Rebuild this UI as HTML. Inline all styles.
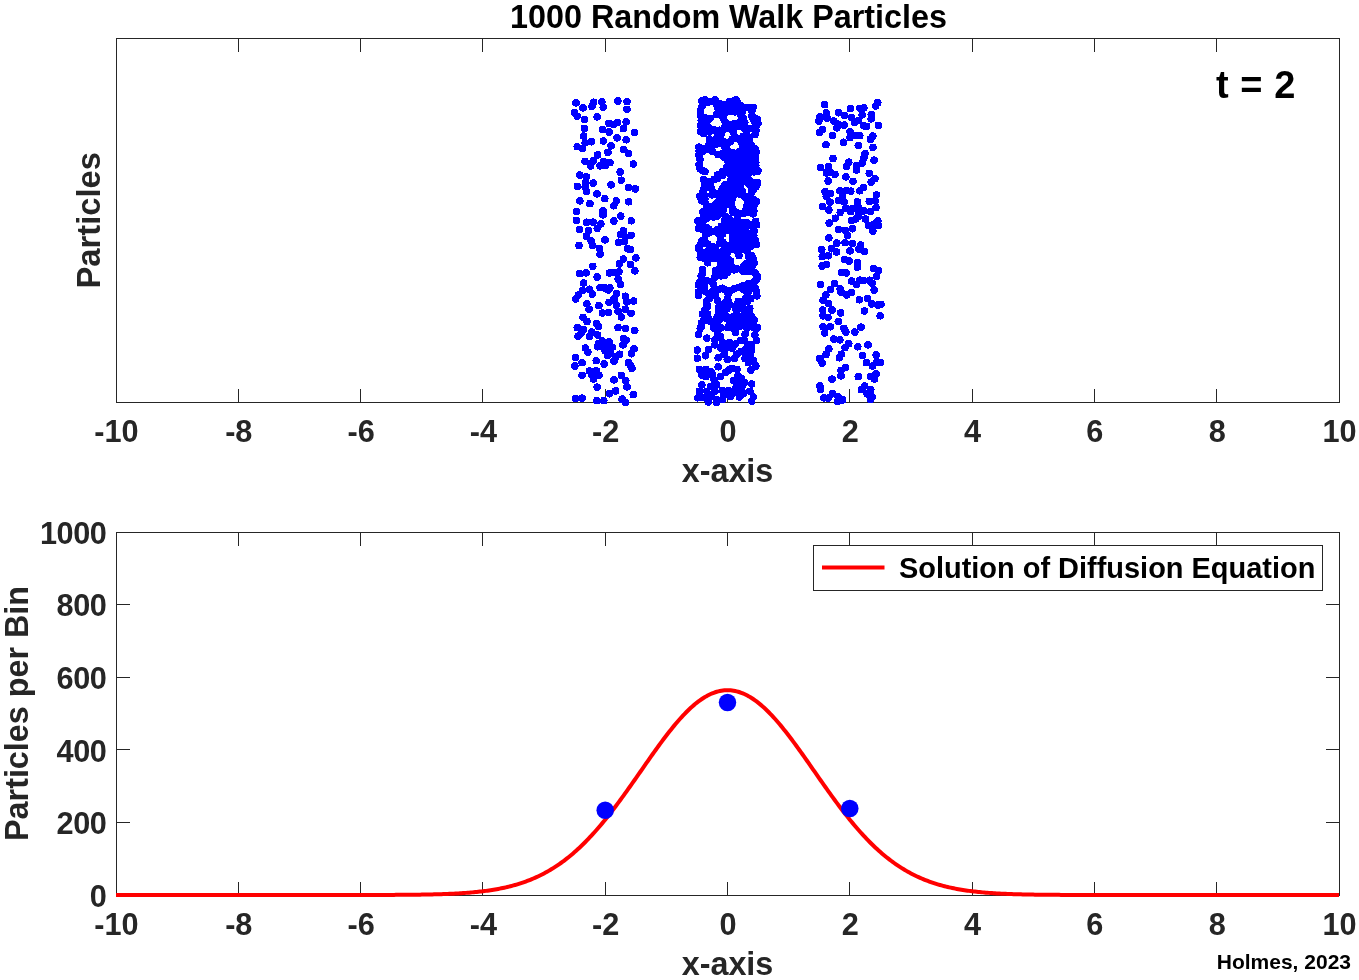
<!DOCTYPE html>
<html lang="en"><head><meta charset="utf-8"><title>1000 Random Walk Particles</title>
<style>html,body{margin:0;padding:0;background:#fff;}body{width:1359px;height:980px;overflow:hidden;}svg{display:block;}text{font-family:"Liberation Sans", "Helvetica", "Arial", sans-serif;font-weight:bold;}</style>
</head><body>
<svg width="1359" height="980" viewBox="0 0 1359 980">
<rect x="0" y="0" width="1359" height="980" fill="#ffffff"/>
<g id="top-axes">
<path d="M238.50 402.00V389.00M238.50 39.00V52.00M360.50 402.00V389.00M360.50 39.00V52.00M482.50 402.00V389.00M482.50 39.00V52.00M605.50 402.00V389.00M605.50 39.00V52.00M727.50 402.00V389.00M727.50 39.00V52.00M849.50 402.00V389.00M849.50 39.00V52.00M972.50 402.00V389.00M972.50 39.00V52.00M1094.50 402.00V389.00M1094.50 39.00V52.00M1216.50 402.00V389.00M1216.50 39.00V52.00" stroke="#262626" stroke-width="1" fill="none" shape-rendering="crispEdges"/>
<rect x="116.50" y="38.50" width="1223.00" height="364.00" fill="none" stroke="#262626" stroke-width="1" shape-rendering="crispEdges"/>
</g>
<g id="particles" fill="#0000ff" shape-rendering="crispEdges">
<circle cx="576.0" cy="102.9" r="3.8"/><circle cx="583.0" cy="107.9" r="3.8"/><circle cx="593.6" cy="102.2" r="3.8"/><circle cx="591.9" cy="106.5" r="3.8"/><circle cx="601.9" cy="102.0" r="3.8"/><circle cx="603.2" cy="107.3" r="3.8"/><circle cx="617.9" cy="101.0" r="3.8"/><circle cx="627.0" cy="101.6" r="3.8"/><circle cx="626.9" cy="109.3" r="3.8"/><circle cx="574.6" cy="112.4" r="3.8"/><circle cx="577.2" cy="116.3" r="3.8"/><circle cx="584.6" cy="119.3" r="3.8"/><circle cx="597.2" cy="116.9" r="3.8"/><circle cx="608.9" cy="123.4" r="3.8"/><circle cx="613.8" cy="124.5" r="3.8"/><circle cx="617.2" cy="122.6" r="3.8"/><circle cx="626.2" cy="121.8" r="3.8"/><circle cx="623.4" cy="128.7" r="3.8"/><circle cx="584.4" cy="128.3" r="3.8"/><circle cx="602.7" cy="129.7" r="3.8"/><circle cx="609.1" cy="132.0" r="3.8"/><circle cx="634.4" cy="132.4" r="3.8"/><circle cx="583.6" cy="136.1" r="3.8"/><circle cx="617.1" cy="137.9" r="3.8"/><circle cx="626.2" cy="139.8" r="3.8"/><circle cx="591.5" cy="141.8" r="3.8"/><circle cx="585.2" cy="142.8" r="3.8"/><circle cx="577.2" cy="146.7" r="3.8"/><circle cx="582.3" cy="148.3" r="3.8"/><circle cx="603.4" cy="141.0" r="3.8"/><circle cx="611.1" cy="145.9" r="3.8"/><circle cx="607.9" cy="152.4" r="3.8"/><circle cx="623.8" cy="149.6" r="3.8"/><circle cx="628.3" cy="153.6" r="3.8"/><circle cx="597.6" cy="154.9" r="3.8"/><circle cx="585.0" cy="161.4" r="3.8"/><circle cx="593.2" cy="161.0" r="3.8"/><circle cx="590.7" cy="165.9" r="3.8"/><circle cx="603.4" cy="161.4" r="3.8"/><circle cx="600.1" cy="165.9" r="3.8"/><circle cx="609.9" cy="162.6" r="3.8"/><circle cx="605.8" cy="165.5" r="3.8"/><circle cx="633.4" cy="164.0" r="3.8"/><circle cx="585.2" cy="187.0" r="3.8"/><circle cx="579.7" cy="175.1" r="3.8"/><circle cx="586.4" cy="176.9" r="3.8"/><circle cx="621.3" cy="180.2" r="3.8"/><circle cx="620.1" cy="172.0" r="3.8"/><circle cx="593.2" cy="183.1" r="3.8"/><circle cx="585.8" cy="182.2" r="3.8"/><circle cx="577.4" cy="186.3" r="3.8"/><circle cx="611.1" cy="184.9" r="3.8"/><circle cx="586.4" cy="191.6" r="3.8"/><circle cx="628.7" cy="187.6" r="3.8"/><circle cx="635.4" cy="188.9" r="3.8"/><circle cx="597.0" cy="193.8" r="3.8"/><circle cx="604.8" cy="198.7" r="3.8"/><circle cx="579.9" cy="200.9" r="3.8"/><circle cx="589.9" cy="203.6" r="3.8"/><circle cx="616.3" cy="201.0" r="3.8"/><circle cx="613.8" cy="205.8" r="3.8"/><circle cx="628.7" cy="201.8" r="3.8"/><circle cx="576.4" cy="211.6" r="3.8"/><circle cx="603.0" cy="210.8" r="3.8"/><circle cx="603.0" cy="214.9" r="3.8"/><circle cx="620.8" cy="216.1" r="3.8"/><circle cx="613.8" cy="221.0" r="3.8"/><circle cx="576.3" cy="220.4" r="3.8"/><circle cx="631.3" cy="220.8" r="3.8"/><circle cx="586.6" cy="222.2" r="3.8"/><circle cx="593.2" cy="222.2" r="3.8"/><circle cx="600.9" cy="223.9" r="3.8"/><circle cx="597.2" cy="228.4" r="3.8"/><circle cx="579.3" cy="229.6" r="3.8"/><circle cx="588.7" cy="230.4" r="3.8"/><circle cx="586.4" cy="236.1" r="3.8"/><circle cx="623.4" cy="230.8" r="3.8"/><circle cx="620.5" cy="234.5" r="3.8"/><circle cx="631.1" cy="235.3" r="3.8"/><circle cx="625.4" cy="236.9" r="3.8"/><circle cx="605.0" cy="239.8" r="3.8"/><circle cx="591.1" cy="241.0" r="3.8"/><circle cx="618.5" cy="242.2" r="3.8"/><circle cx="624.6" cy="241.4" r="3.8"/><circle cx="579.0" cy="245.5" r="3.8"/><circle cx="592.8" cy="245.5" r="3.8"/><circle cx="599.3" cy="248.4" r="3.8"/><circle cx="627.5" cy="248.8" r="3.8"/><circle cx="614.0" cy="272.5" r="3.8"/><circle cx="605.0" cy="288.0" r="3.8"/><circle cx="630.3" cy="249.6" r="3.8"/><circle cx="600.1" cy="254.1" r="3.8"/><circle cx="635.9" cy="257.8" r="3.8"/><circle cx="623.4" cy="259.0" r="3.8"/><circle cx="619.3" cy="263.9" r="3.8"/><circle cx="630.3" cy="264.3" r="3.8"/><circle cx="634.8" cy="270.9" r="3.8"/><circle cx="592.8" cy="266.4" r="3.8"/><circle cx="579.7" cy="273.7" r="3.8"/><circle cx="586.2" cy="272.9" r="3.8"/><circle cx="597.2" cy="277.0" r="3.8"/><circle cx="609.5" cy="272.9" r="3.8"/><circle cx="618.9" cy="271.7" r="3.8"/><circle cx="618.1" cy="279.0" r="3.8"/><circle cx="620.5" cy="284.3" r="3.8"/><circle cx="583.6" cy="283.1" r="3.8"/><circle cx="600.1" cy="287.6" r="3.8"/><circle cx="609.9" cy="288.0" r="3.8"/><circle cx="608.3" cy="290.0" r="3.8"/><circle cx="582.5" cy="290.4" r="3.8"/><circle cx="589.5" cy="289.2" r="3.8"/><circle cx="592.4" cy="294.1" r="3.8"/><circle cx="578.5" cy="294.9" r="3.8"/><circle cx="575.6" cy="299.0" r="3.8"/><circle cx="616.3" cy="293.7" r="3.8"/><circle cx="625.4" cy="296.2" r="3.8"/><circle cx="614.0" cy="299.0" r="3.8"/><circle cx="609.1" cy="302.3" r="3.8"/><circle cx="633.6" cy="301.1" r="3.8"/><circle cx="627.0" cy="301.9" r="3.8"/><circle cx="616.4" cy="305.1" r="3.8"/><circle cx="586.9" cy="303.9" r="3.8"/><circle cx="589.1" cy="309.2" r="3.8"/><circle cx="598.9" cy="305.6" r="3.8"/><circle cx="602.5" cy="312.9" r="3.8"/><circle cx="608.3" cy="312.5" r="3.8"/><circle cx="618.1" cy="311.3" r="3.8"/><circle cx="625.4" cy="309.2" r="3.8"/><circle cx="631.1" cy="313.3" r="3.8"/><circle cx="621.3" cy="317.0" r="3.8"/><circle cx="583.0" cy="317.4" r="3.8"/><circle cx="587.0" cy="321.5" r="3.8"/><circle cx="596.4" cy="323.5" r="3.8"/><circle cx="581.3" cy="332.9" r="3.8"/><circle cx="603.4" cy="345.6" r="3.8"/><circle cx="608.3" cy="348.0" r="3.8"/><circle cx="607.5" cy="355.4" r="3.8"/><circle cx="626.2" cy="340.3" r="3.8"/><circle cx="630.3" cy="365.2" r="3.8"/><circle cx="591.9" cy="375.0" r="3.8"/><circle cx="602.1" cy="341.1" r="3.8"/><circle cx="577.2" cy="327.6" r="3.8"/><circle cx="583.4" cy="329.3" r="3.8"/><circle cx="598.5" cy="326.4" r="3.8"/><circle cx="618.1" cy="327.6" r="3.8"/><circle cx="625.4" cy="328.4" r="3.8"/><circle cx="634.8" cy="330.5" r="3.8"/><circle cx="578.1" cy="336.2" r="3.8"/><circle cx="591.9" cy="332.1" r="3.8"/><circle cx="589.5" cy="336.6" r="3.8"/><circle cx="597.6" cy="335.0" r="3.8"/><circle cx="623.4" cy="338.6" r="3.8"/><circle cx="623.0" cy="344.8" r="3.8"/><circle cx="609.1" cy="341.9" r="3.8"/><circle cx="598.5" cy="343.6" r="3.8"/><circle cx="597.6" cy="346.8" r="3.8"/><circle cx="612.4" cy="347.2" r="3.8"/><circle cx="605.0" cy="350.5" r="3.8"/><circle cx="610.7" cy="352.9" r="3.8"/><circle cx="619.7" cy="354.2" r="3.8"/><circle cx="615.6" cy="357.0" r="3.8"/><circle cx="614.0" cy="361.1" r="3.8"/><circle cx="585.4" cy="348.0" r="3.8"/><circle cx="587.9" cy="352.1" r="3.8"/><circle cx="634.0" cy="348.9" r="3.8"/><circle cx="631.5" cy="353.8" r="3.8"/><circle cx="575.5" cy="357.4" r="3.8"/><circle cx="582.1" cy="362.7" r="3.8"/><circle cx="574.8" cy="366.0" r="3.8"/><circle cx="596.2" cy="360.7" r="3.8"/><circle cx="604.2" cy="364.0" r="3.8"/><circle cx="628.3" cy="362.7" r="3.8"/><circle cx="631.9" cy="368.4" r="3.8"/><circle cx="589.5" cy="370.9" r="3.8"/><circle cx="596.4" cy="370.9" r="3.8"/><circle cx="582.1" cy="375.4" r="3.8"/><circle cx="598.9" cy="375.4" r="3.8"/><circle cx="593.6" cy="379.1" r="3.8"/><circle cx="621.3" cy="375.4" r="3.8"/><circle cx="614.0" cy="379.9" r="3.8"/><circle cx="625.8" cy="380.7" r="3.8"/><circle cx="627.0" cy="386.8" r="3.8"/><circle cx="597.2" cy="387.2" r="3.8"/><circle cx="615.6" cy="390.9" r="3.8"/><circle cx="609.5" cy="393.8" r="3.8"/><circle cx="633.2" cy="394.6" r="3.8"/><circle cx="575.6" cy="398.6" r="3.8"/><circle cx="582.1" cy="398.2" r="3.8"/><circle cx="596.8" cy="400.7" r="3.8"/><circle cx="603.8" cy="400.7" r="3.8"/><circle cx="622.1" cy="399.1" r="3.8"/><circle cx="625.4" cy="402.3" r="3.8"/><circle cx="866.7" cy="126.3" r="3.8"/><circle cx="824.7" cy="104.7" r="3.8"/><circle cx="877.8" cy="102.6" r="3.8"/><circle cx="875.7" cy="105.9" r="3.8"/><circle cx="850.4" cy="108.7" r="3.8"/><circle cx="859.8" cy="108.3" r="3.8"/><circle cx="863.9" cy="107.9" r="3.8"/><circle cx="862.2" cy="114.9" r="3.8"/><circle cx="826.3" cy="112.8" r="3.8"/><circle cx="838.6" cy="112.8" r="3.8"/><circle cx="844.3" cy="115.3" r="3.8"/><circle cx="819.8" cy="116.9" r="3.8"/><circle cx="818.8" cy="121.0" r="3.8"/><circle cx="827.1" cy="118.1" r="3.8"/><circle cx="851.6" cy="117.7" r="3.8"/><circle cx="871.2" cy="114.5" r="3.8"/><circle cx="871.2" cy="118.9" r="3.8"/><circle cx="833.7" cy="121.0" r="3.8"/><circle cx="837.8" cy="124.2" r="3.8"/><circle cx="854.5" cy="122.6" r="3.8"/><circle cx="858.2" cy="120.6" r="3.8"/><circle cx="844.3" cy="125.1" r="3.8"/><circle cx="863.9" cy="125.9" r="3.8"/><circle cx="878.4" cy="125.3" r="3.8"/><circle cx="836.9" cy="127.9" r="3.8"/><circle cx="822.6" cy="129.6" r="3.8"/><circle cx="819.4" cy="132.4" r="3.8"/><circle cx="832.5" cy="135.3" r="3.8"/><circle cx="850.0" cy="131.6" r="3.8"/><circle cx="850.0" cy="137.7" r="3.8"/><circle cx="855.7" cy="135.3" r="3.8"/><circle cx="859.8" cy="135.7" r="3.8"/><circle cx="872.9" cy="136.1" r="3.8"/><circle cx="870.4" cy="139.3" r="3.8"/><circle cx="825.9" cy="144.7" r="3.8"/><circle cx="843.5" cy="142.2" r="3.8"/><circle cx="858.2" cy="145.5" r="3.8"/><circle cx="872.9" cy="147.5" r="3.8"/><circle cx="865.1" cy="153.6" r="3.8"/><circle cx="863.9" cy="158.1" r="3.8"/><circle cx="833.1" cy="158.5" r="3.8"/><circle cx="874.1" cy="160.2" r="3.8"/><circle cx="848.8" cy="162.2" r="3.8"/><circle cx="846.7" cy="166.3" r="3.8"/><circle cx="862.2" cy="163.0" r="3.8"/><circle cx="856.5" cy="165.5" r="3.8"/><circle cx="820.6" cy="167.5" r="3.8"/><circle cx="828.4" cy="166.7" r="3.8"/><circle cx="852.5" cy="208.4" r="3.8"/><circle cx="863.9" cy="210.8" r="3.8"/><circle cx="855.7" cy="219.0" r="3.8"/><circle cx="830.4" cy="172.0" r="3.8"/><circle cx="826.3" cy="172.9" r="3.8"/><circle cx="834.9" cy="174.5" r="3.8"/><circle cx="856.5" cy="170.0" r="3.8"/><circle cx="869.2" cy="173.3" r="3.8"/><circle cx="845.9" cy="176.9" r="3.8"/><circle cx="828.1" cy="181.0" r="3.8"/><circle cx="853.0" cy="181.4" r="3.8"/><circle cx="874.9" cy="178.6" r="3.8"/><circle cx="871.2" cy="182.2" r="3.8"/><circle cx="863.5" cy="187.6" r="3.8"/><circle cx="859.8" cy="190.8" r="3.8"/><circle cx="825.1" cy="191.6" r="3.8"/><circle cx="830.4" cy="193.7" r="3.8"/><circle cx="839.8" cy="190.8" r="3.8"/><circle cx="846.7" cy="190.4" r="3.8"/><circle cx="850.8" cy="191.2" r="3.8"/><circle cx="876.5" cy="194.9" r="3.8"/><circle cx="826.3" cy="196.5" r="3.8"/><circle cx="842.6" cy="196.9" r="3.8"/><circle cx="838.6" cy="200.6" r="3.8"/><circle cx="830.0" cy="202.2" r="3.8"/><circle cx="844.3" cy="201.8" r="3.8"/><circle cx="857.4" cy="201.8" r="3.8"/><circle cx="869.2" cy="201.4" r="3.8"/><circle cx="875.3" cy="201.0" r="3.8"/><circle cx="822.6" cy="206.3" r="3.8"/><circle cx="828.8" cy="210.0" r="3.8"/><circle cx="845.9" cy="208.4" r="3.8"/><circle cx="858.2" cy="207.6" r="3.8"/><circle cx="876.1" cy="207.6" r="3.8"/><circle cx="840.2" cy="212.4" r="3.8"/><circle cx="850.8" cy="211.6" r="3.8"/><circle cx="859.0" cy="213.3" r="3.8"/><circle cx="870.4" cy="211.6" r="3.8"/><circle cx="835.3" cy="218.2" r="3.8"/><circle cx="858.2" cy="216.5" r="3.8"/><circle cx="865.5" cy="219.0" r="3.8"/><circle cx="829.2" cy="223.1" r="3.8"/><circle cx="851.6" cy="220.6" r="3.8"/><circle cx="877.8" cy="221.0" r="3.8"/><circle cx="868.8" cy="225.5" r="3.8"/><circle cx="874.5" cy="223.9" r="3.8"/><circle cx="878.6" cy="225.5" r="3.8"/><circle cx="838.6" cy="229.6" r="3.8"/><circle cx="845.1" cy="230.4" r="3.8"/><circle cx="852.5" cy="228.8" r="3.8"/><circle cx="872.9" cy="231.2" r="3.8"/><circle cx="847.5" cy="235.3" r="3.8"/><circle cx="828.9" cy="237.8" r="3.8"/><circle cx="836.9" cy="243.1" r="3.8"/><circle cx="845.1" cy="242.7" r="3.8"/><circle cx="852.5" cy="243.5" r="3.8"/><circle cx="860.6" cy="245.1" r="3.8"/><circle cx="821.8" cy="249.6" r="3.8"/><circle cx="831.6" cy="248.8" r="3.8"/><circle cx="836.5" cy="252.1" r="3.8"/><circle cx="850.0" cy="250.9" r="3.8"/><circle cx="859.0" cy="249.2" r="3.8"/><circle cx="864.3" cy="251.3" r="3.8"/><circle cx="822.2" cy="256.6" r="3.8"/><circle cx="828.4" cy="255.8" r="3.8"/><circle cx="844.7" cy="259.4" r="3.8"/><circle cx="849.2" cy="261.1" r="3.8"/><circle cx="857.4" cy="262.7" r="3.8"/><circle cx="857.4" cy="267.2" r="3.8"/><circle cx="822.2" cy="266.0" r="3.8"/><circle cx="826.3" cy="264.7" r="3.8"/><circle cx="873.7" cy="268.4" r="3.8"/><circle cx="878.6" cy="270.4" r="3.8"/><circle cx="841.4" cy="272.5" r="3.8"/><circle cx="846.3" cy="272.9" r="3.8"/><circle cx="876.5" cy="276.6" r="3.8"/><circle cx="851.6" cy="281.1" r="3.8"/><circle cx="859.8" cy="280.2" r="3.8"/><circle cx="856.5" cy="284.3" r="3.8"/><circle cx="863.1" cy="280.6" r="3.8"/><circle cx="869.6" cy="280.2" r="3.8"/><circle cx="872.0" cy="283.1" r="3.8"/><circle cx="820.5" cy="284.7" r="3.8"/><circle cx="834.5" cy="283.5" r="3.8"/><circle cx="830.4" cy="289.6" r="3.8"/><circle cx="840.2" cy="288.8" r="3.8"/><circle cx="825.9" cy="294.9" r="3.8"/><circle cx="841.0" cy="292.1" r="3.8"/><circle cx="846.7" cy="294.9" r="3.8"/><circle cx="851.6" cy="292.5" r="3.8"/><circle cx="874.1" cy="290.0" r="3.8"/><circle cx="823.1" cy="300.2" r="3.8"/><circle cx="828.4" cy="303.5" r="3.8"/><circle cx="859.4" cy="299.8" r="3.8"/><circle cx="867.5" cy="298.6" r="3.8"/><circle cx="871.6" cy="303.9" r="3.8"/><circle cx="877.8" cy="305.1" r="3.8"/><circle cx="881.0" cy="304.3" r="3.8"/><circle cx="822.6" cy="310.0" r="3.8"/><circle cx="832.0" cy="310.0" r="3.8"/><circle cx="840.6" cy="312.9" r="3.8"/><circle cx="864.5" cy="310.9" r="3.8"/><circle cx="823.1" cy="315.8" r="3.8"/><circle cx="828.0" cy="317.4" r="3.8"/><circle cx="880.2" cy="315.8" r="3.8"/><circle cx="838.2" cy="321.5" r="3.8"/><circle cx="823.1" cy="326.8" r="3.8"/><circle cx="830.4" cy="326.8" r="3.8"/><circle cx="824.7" cy="332.9" r="3.8"/><circle cx="843.9" cy="328.4" r="3.8"/><circle cx="845.9" cy="332.1" r="3.8"/><circle cx="861.0" cy="327.2" r="3.8"/><circle cx="854.9" cy="332.1" r="3.8"/><circle cx="833.7" cy="339.1" r="3.8"/><circle cx="839.8" cy="339.9" r="3.8"/><circle cx="848.8" cy="343.6" r="3.8"/><circle cx="845.1" cy="347.6" r="3.8"/><circle cx="857.8" cy="346.8" r="3.8"/><circle cx="868.0" cy="344.8" r="3.8"/><circle cx="828.8" cy="348.9" r="3.8"/><circle cx="825.9" cy="354.6" r="3.8"/><circle cx="841.4" cy="354.2" r="3.8"/><circle cx="839.4" cy="357.8" r="3.8"/><circle cx="862.6" cy="355.4" r="3.8"/><circle cx="876.1" cy="355.0" r="3.8"/><circle cx="819.8" cy="358.6" r="3.8"/><circle cx="822.2" cy="363.1" r="3.8"/><circle cx="866.3" cy="362.7" r="3.8"/><circle cx="872.5" cy="366.0" r="3.8"/><circle cx="876.9" cy="361.9" r="3.8"/><circle cx="880.6" cy="362.7" r="3.8"/><circle cx="845.5" cy="367.6" r="3.8"/><circle cx="841.0" cy="370.5" r="3.8"/><circle cx="841.0" cy="375.8" r="3.8"/><circle cx="876.1" cy="373.8" r="3.8"/><circle cx="832.0" cy="379.1" r="3.8"/><circle cx="858.2" cy="376.6" r="3.8"/><circle cx="870.4" cy="376.6" r="3.8"/><circle cx="874.5" cy="379.1" r="3.8"/><circle cx="819.8" cy="386.0" r="3.8"/><circle cx="820.6" cy="389.7" r="3.8"/><circle cx="864.7" cy="386.0" r="3.8"/><circle cx="861.4" cy="389.7" r="3.8"/><circle cx="870.8" cy="389.7" r="3.8"/><circle cx="867.1" cy="393.8" r="3.8"/><circle cx="872.0" cy="397.0" r="3.8"/><circle cx="870.4" cy="399.5" r="3.8"/><circle cx="832.5" cy="393.8" r="3.8"/><circle cx="823.9" cy="397.8" r="3.8"/><circle cx="828.0" cy="398.2" r="3.8"/><circle cx="838.2" cy="397.0" r="3.8"/><circle cx="842.6" cy="399.9" r="3.8"/><circle cx="837.8" cy="401.5" r="3.8"/><circle cx="742.4" cy="146.8" r="3.8"/><circle cx="702.0" cy="106.4" r="3.8"/><circle cx="699.0" cy="154.8" r="3.8"/><circle cx="729.4" cy="101.5" r="3.8"/><circle cx="722.5" cy="115.3" r="3.8"/><circle cx="712.7" cy="101.7" r="3.8"/><circle cx="701.2" cy="120.6" r="3.8"/><circle cx="731.3" cy="160.2" r="3.8"/><circle cx="708.3" cy="146.1" r="3.8"/><circle cx="750.3" cy="171.5" r="3.8"/><circle cx="718.0" cy="108.4" r="3.8"/><circle cx="739.4" cy="151.8" r="3.8"/><circle cx="738.0" cy="159.7" r="3.8"/><circle cx="748.3" cy="163.5" r="3.8"/><circle cx="734.5" cy="136.2" r="3.8"/><circle cx="723.8" cy="157.3" r="3.8"/><circle cx="724.9" cy="126.7" r="3.8"/><circle cx="743.1" cy="136.4" r="3.8"/><circle cx="737.7" cy="102.8" r="3.8"/><circle cx="735.4" cy="170.8" r="3.8"/><circle cx="709.0" cy="128.1" r="3.8"/><circle cx="730.3" cy="155.4" r="3.8"/><circle cx="723.5" cy="141.4" r="3.8"/><circle cx="700.1" cy="168.9" r="3.8"/><circle cx="746.5" cy="156.3" r="3.8"/><circle cx="742.0" cy="163.8" r="3.8"/><circle cx="713.1" cy="140.9" r="3.8"/><circle cx="745.4" cy="161.9" r="3.8"/><circle cx="702.7" cy="148.3" r="3.8"/><circle cx="702.0" cy="100.8" r="3.8"/><circle cx="733.4" cy="107.5" r="3.8"/><circle cx="706.8" cy="124.5" r="3.8"/><circle cx="728.2" cy="111.2" r="3.8"/><circle cx="747.9" cy="107.5" r="3.8"/><circle cx="742.0" cy="143.5" r="3.8"/><circle cx="738.4" cy="110.2" r="3.8"/><circle cx="751.9" cy="115.6" r="3.8"/><circle cx="732.2" cy="128.2" r="3.8"/><circle cx="738.9" cy="122.9" r="3.8"/><circle cx="716.4" cy="103.9" r="3.8"/><circle cx="754.8" cy="122.1" r="3.8"/><circle cx="754.7" cy="158.9" r="3.8"/><circle cx="755.8" cy="162.4" r="3.8"/><circle cx="727.5" cy="150.6" r="3.8"/><circle cx="710.4" cy="131.0" r="3.8"/><circle cx="699.1" cy="164.7" r="3.8"/><circle cx="717.6" cy="114.2" r="3.8"/><circle cx="746.0" cy="171.1" r="3.8"/><circle cx="746.2" cy="148.4" r="3.8"/><circle cx="738.8" cy="163.5" r="3.8"/><circle cx="755.0" cy="134.7" r="3.8"/><circle cx="733.8" cy="162.4" r="3.8"/><circle cx="700.1" cy="159.5" r="3.8"/><circle cx="725.8" cy="171.1" r="3.8"/><circle cx="755.8" cy="127.0" r="3.8"/><circle cx="755.8" cy="165.7" r="3.8"/><circle cx="733.8" cy="123.8" r="3.8"/><circle cx="730.3" cy="141.5" r="3.8"/><circle cx="701.2" cy="117.4" r="3.8"/><circle cx="755.6" cy="155.8" r="3.8"/><circle cx="727.6" cy="107.4" r="3.8"/><circle cx="751.4" cy="157.8" r="3.8"/><circle cx="742.3" cy="160.5" r="3.8"/><circle cx="708.2" cy="149.5" r="3.8"/><circle cx="752.7" cy="165.3" r="3.8"/><circle cx="704.6" cy="103.1" r="3.8"/><circle cx="747.3" cy="136.7" r="3.8"/><circle cx="740.4" cy="126.5" r="3.8"/><circle cx="732.6" cy="152.9" r="3.8"/><circle cx="751.2" cy="161.6" r="3.8"/><circle cx="753.1" cy="119.0" r="3.8"/><circle cx="719.8" cy="143.1" r="3.8"/><circle cx="700.6" cy="131.4" r="3.8"/><circle cx="743.1" cy="107.5" r="3.8"/><circle cx="749.7" cy="139.1" r="3.8"/><circle cx="725.0" cy="121.7" r="3.8"/><circle cx="738.9" cy="156.3" r="3.8"/><circle cx="745.1" cy="142.9" r="3.8"/><circle cx="726.9" cy="144.5" r="3.8"/><circle cx="700.8" cy="125.6" r="3.8"/><circle cx="748.2" cy="128.9" r="3.8"/><circle cx="744.8" cy="167.4" r="3.8"/><circle cx="734.3" cy="158.6" r="3.8"/><circle cx="748.8" cy="150.9" r="3.8"/><circle cx="727.2" cy="159.9" r="3.8"/><circle cx="703.4" cy="133.4" r="3.8"/><circle cx="719.5" cy="130.2" r="3.8"/><circle cx="699.0" cy="147.2" r="3.8"/><circle cx="734.9" cy="111.8" r="3.8"/><circle cx="742.1" cy="112.1" r="3.8"/><circle cx="715.2" cy="144.7" r="3.8"/><circle cx="743.8" cy="125.8" r="3.8"/><circle cx="721.4" cy="107.3" r="3.8"/><circle cx="704.9" cy="171.6" r="3.8"/><circle cx="724.8" cy="109.0" r="3.8"/><circle cx="706.8" cy="119.4" r="3.8"/><circle cx="751.5" cy="145.3" r="3.8"/><circle cx="711.5" cy="146.1" r="3.8"/><circle cx="706.7" cy="131.7" r="3.8"/><circle cx="742.4" cy="171.1" r="3.8"/><circle cx="719.9" cy="111.0" r="3.8"/><circle cx="736.5" cy="167.8" r="3.8"/><circle cx="732.0" cy="170.5" r="3.8"/><circle cx="719.5" cy="139.1" r="3.8"/><circle cx="745.4" cy="152.2" r="3.8"/><circle cx="752.5" cy="128.7" r="3.8"/><circle cx="721.1" cy="134.5" r="3.8"/><circle cx="718.1" cy="154.6" r="3.8"/><circle cx="739.0" cy="171.2" r="3.8"/><circle cx="749.3" cy="142.9" r="3.8"/><circle cx="755.0" cy="148.9" r="3.8"/><circle cx="743.0" cy="117.8" r="3.8"/><circle cx="708.3" cy="101.9" r="3.8"/><circle cx="757.2" cy="119.2" r="3.8"/><circle cx="732.7" cy="138.8" r="3.8"/><circle cx="748.2" cy="166.7" r="3.8"/><circle cx="751.8" cy="110.9" r="3.8"/><circle cx="730.1" cy="165.7" r="3.8"/><circle cx="741.3" cy="167.3" r="3.8"/><circle cx="714.8" cy="130.1" r="3.8"/><circle cx="746.7" cy="132.8" r="3.8"/><circle cx="744.8" cy="122.5" r="3.8"/><circle cx="728.5" cy="162.9" r="3.8"/><circle cx="727.5" cy="125.0" r="3.8"/><circle cx="703.4" cy="129.7" r="3.8"/><circle cx="739.8" cy="140.3" r="3.8"/><circle cx="731.5" cy="111.6" r="3.8"/><circle cx="757.7" cy="171.1" r="3.8"/><circle cx="700.6" cy="110.8" r="3.8"/><circle cx="725.6" cy="104.3" r="3.8"/><circle cx="721.9" cy="153.9" r="3.8"/><circle cx="737.1" cy="138.6" r="3.8"/><circle cx="753.1" cy="107.4" r="3.8"/><circle cx="751.9" cy="149.4" r="3.8"/><circle cx="733.0" cy="101.2" r="3.8"/><circle cx="736.6" cy="107.4" r="3.8"/><circle cx="716.4" cy="138.7" r="3.8"/><circle cx="752.6" cy="168.9" r="3.8"/><circle cx="735.4" cy="126.9" r="3.8"/><circle cx="699.2" cy="151.2" r="3.8"/><circle cx="709.5" cy="143.2" r="3.8"/><circle cx="717.7" cy="134.2" r="3.8"/><circle cx="753.2" cy="153.1" r="3.8"/><circle cx="733.5" cy="166.8" r="3.8"/><circle cx="743.0" cy="157.3" r="3.8"/><circle cx="724.7" cy="112.8" r="3.8"/><circle cx="712.5" cy="151.6" r="3.8"/><circle cx="748.2" cy="159.2" r="3.8"/><circle cx="727.1" cy="156.6" r="3.8"/><circle cx="723.2" cy="118.4" r="3.8"/><circle cx="709.4" cy="139.0" r="3.8"/><circle cx="743.7" cy="139.8" r="3.8"/><circle cx="740.3" cy="105.5" r="3.8"/><circle cx="726.6" cy="167.3" r="3.8"/><circle cx="723.8" cy="145.4" r="3.8"/><circle cx="749.9" cy="154.2" r="3.8"/><circle cx="705.1" cy="99.7" r="3.8"/><circle cx="734.7" cy="155.4" r="3.8"/><circle cx="724.7" cy="152.2" r="3.8"/><circle cx="702.7" cy="151.6" r="3.8"/><circle cx="722.3" cy="171.7" r="3.8"/><circle cx="729.7" cy="104.8" r="3.8"/><circle cx="733.6" cy="104.3" r="3.8"/><circle cx="744.6" cy="128.8" r="3.8"/><circle cx="700.6" cy="114.1" r="3.8"/><circle cx="755.9" cy="130.6" r="3.8"/><circle cx="732.9" cy="131.5" r="3.8"/><circle cx="741.5" cy="121.1" r="3.8"/><circle cx="742.0" cy="153.9" r="3.8"/><circle cx="754.0" cy="171.8" r="3.8"/><circle cx="704.2" cy="121.7" r="3.8"/><circle cx="748.5" cy="146.1" r="3.8"/><circle cx="723.4" cy="129.6" r="3.8"/><circle cx="719.9" cy="104.0" r="3.8"/><circle cx="757.9" cy="123.4" r="3.8"/><circle cx="715.2" cy="99.7" r="3.8"/><circle cx="726.0" cy="147.7" r="3.8"/><circle cx="741.0" cy="115.2" r="3.8"/><circle cx="743.0" cy="150.0" r="3.8"/><circle cx="736.0" cy="100.0" r="3.8"/><circle cx="709.9" cy="118.5" r="3.8"/><circle cx="730.8" cy="125.1" r="3.8"/><circle cx="728.7" cy="169.7" r="3.8"/><circle cx="704.1" cy="126.5" r="3.8"/><circle cx="729.0" cy="128.1" r="3.8"/><circle cx="704.3" cy="117.3" r="3.8"/><circle cx="756.2" cy="151.9" r="3.8"/><circle cx="708.4" cy="119.3" r="3.8"/><circle cx="716.6" cy="114.7" r="3.8"/><circle cx="711.3" cy="140.6" r="3.8"/><circle cx="750.9" cy="246.5" r="3.8"/><circle cx="739.9" cy="236.8" r="3.8"/><circle cx="709.3" cy="216.5" r="3.8"/><circle cx="725.3" cy="204.4" r="3.8"/><circle cx="753.5" cy="227.8" r="3.8"/><circle cx="729.4" cy="245.9" r="3.8"/><circle cx="718.6" cy="205.6" r="3.8"/><circle cx="750.2" cy="200.4" r="3.8"/><circle cx="704.1" cy="188.9" r="3.8"/><circle cx="753.9" cy="210.8" r="3.8"/><circle cx="743.7" cy="231.0" r="3.8"/><circle cx="739.0" cy="230.3" r="3.8"/><circle cx="750.3" cy="209.2" r="3.8"/><circle cx="745.6" cy="210.1" r="3.8"/><circle cx="745.8" cy="198.3" r="3.8"/><circle cx="725.2" cy="227.9" r="3.8"/><circle cx="737.4" cy="246.6" r="3.8"/><circle cx="733.3" cy="222.1" r="3.8"/><circle cx="711.8" cy="194.9" r="3.8"/><circle cx="703.7" cy="219.9" r="3.8"/><circle cx="702.9" cy="229.6" r="3.8"/><circle cx="751.1" cy="186.8" r="3.8"/><circle cx="740.2" cy="183.8" r="3.8"/><circle cx="747.4" cy="176.6" r="3.8"/><circle cx="743.1" cy="172.0" r="3.8"/><circle cx="701.6" cy="200.8" r="3.8"/><circle cx="727.5" cy="172.5" r="3.8"/><circle cx="716.1" cy="207.8" r="3.8"/><circle cx="710.7" cy="211.2" r="3.8"/><circle cx="712.7" cy="246.8" r="3.8"/><circle cx="733.5" cy="171.4" r="3.8"/><circle cx="706.5" cy="181.2" r="3.8"/><circle cx="732.7" cy="177.7" r="3.8"/><circle cx="756.6" cy="244.7" r="3.8"/><circle cx="726.4" cy="188.6" r="3.8"/><circle cx="733.8" cy="194.8" r="3.8"/><circle cx="731.3" cy="204.7" r="3.8"/><circle cx="703.7" cy="216.5" r="3.8"/><circle cx="708.3" cy="184.5" r="3.8"/><circle cx="717.9" cy="178.1" r="3.8"/><circle cx="736.4" cy="237.2" r="3.8"/><circle cx="738.1" cy="176.1" r="3.8"/><circle cx="726.5" cy="201.3" r="3.8"/><circle cx="722.1" cy="230.3" r="3.8"/><circle cx="742.5" cy="176.4" r="3.8"/><circle cx="755.7" cy="221.3" r="3.8"/><circle cx="699.5" cy="225.4" r="3.8"/><circle cx="723.5" cy="198.6" r="3.8"/><circle cx="743.2" cy="246.4" r="3.8"/><circle cx="747.5" cy="244.6" r="3.8"/><circle cx="733.3" cy="243.5" r="3.8"/><circle cx="738.9" cy="223.7" r="3.8"/><circle cx="721.3" cy="226.3" r="3.8"/><circle cx="738.4" cy="249.6" r="3.8"/><circle cx="706.3" cy="205.3" r="3.8"/><circle cx="736.1" cy="188.0" r="3.8"/><circle cx="731.6" cy="228.4" r="3.8"/><circle cx="713.7" cy="231.4" r="3.8"/><circle cx="736.9" cy="181.0" r="3.8"/><circle cx="756.2" cy="186.4" r="3.8"/><circle cx="743.4" cy="222.7" r="3.8"/><circle cx="705.5" cy="210.2" r="3.8"/><circle cx="721.9" cy="213.0" r="3.8"/><circle cx="749.6" cy="205.4" r="3.8"/><circle cx="704.3" cy="243.2" r="3.8"/><circle cx="719.9" cy="200.3" r="3.8"/><circle cx="704.7" cy="195.5" r="3.8"/><circle cx="747.3" cy="202.0" r="3.8"/><circle cx="751.3" cy="239.5" r="3.8"/><circle cx="714.2" cy="213.4" r="3.8"/><circle cx="743.3" cy="195.3" r="3.8"/><circle cx="752.5" cy="224.4" r="3.8"/><circle cx="705.5" cy="233.8" r="3.8"/><circle cx="732.5" cy="247.7" r="3.8"/><circle cx="730.3" cy="181.2" r="3.8"/><circle cx="754.1" cy="231.2" r="3.8"/><circle cx="740.2" cy="188.3" r="3.8"/><circle cx="736.1" cy="225.9" r="3.8"/><circle cx="745.7" cy="235.8" r="3.8"/><circle cx="727.2" cy="196.7" r="3.8"/><circle cx="730.1" cy="201.4" r="3.8"/><circle cx="722.4" cy="206.4" r="3.8"/><circle cx="728.9" cy="185.4" r="3.8"/><circle cx="717.3" cy="215.9" r="3.8"/><circle cx="737.3" cy="219.3" r="3.8"/><circle cx="738.6" cy="240.8" r="3.8"/><circle cx="750.9" cy="171.0" r="3.8"/><circle cx="727.8" cy="221.6" r="3.8"/><circle cx="751.0" cy="234.1" r="3.8"/><circle cx="732.7" cy="239.9" r="3.8"/><circle cx="728.2" cy="226.2" r="3.8"/><circle cx="739.9" cy="170.7" r="3.8"/><circle cx="735.0" cy="249.9" r="3.8"/><circle cx="704.6" cy="239.0" r="3.8"/><circle cx="701.1" cy="222.1" r="3.8"/><circle cx="754.0" cy="205.0" r="3.8"/><circle cx="722.6" cy="233.9" r="3.8"/><circle cx="704.9" cy="202.1" r="3.8"/><circle cx="710.6" cy="206.4" r="3.8"/><circle cx="749.0" cy="184.3" r="3.8"/><circle cx="713.5" cy="216.9" r="3.8"/><circle cx="730.4" cy="194.4" r="3.8"/><circle cx="753.9" cy="182.4" r="3.8"/><circle cx="747.9" cy="248.0" r="3.8"/><circle cx="746.7" cy="170.1" r="3.8"/><circle cx="741.4" cy="180.8" r="3.8"/><circle cx="726.9" cy="230.7" r="3.8"/><circle cx="701.6" cy="241.0" r="3.8"/><circle cx="749.3" cy="225.3" r="3.8"/><circle cx="717.6" cy="233.0" r="3.8"/><circle cx="732.7" cy="235.5" r="3.8"/><circle cx="715.2" cy="204.6" r="3.8"/><circle cx="708.9" cy="229.5" r="3.8"/><circle cx="720.8" cy="239.8" r="3.8"/><circle cx="735.1" cy="174.5" r="3.8"/><circle cx="746.3" cy="240.4" r="3.8"/><circle cx="737.5" cy="192.1" r="3.8"/><circle cx="702.5" cy="193.0" r="3.8"/><circle cx="736.0" cy="212.2" r="3.8"/><circle cx="699.8" cy="196.4" r="3.8"/><circle cx="756.6" cy="201.6" r="3.8"/><circle cx="751.8" cy="192.0" r="3.8"/><circle cx="744.7" cy="226.5" r="3.8"/><circle cx="725.4" cy="245.2" r="3.8"/><circle cx="717.6" cy="211.6" r="3.8"/><circle cx="743.5" cy="213.3" r="3.8"/><circle cx="725.5" cy="216.7" r="3.8"/><circle cx="749.2" cy="196.6" r="3.8"/><circle cx="753.2" cy="213.9" r="3.8"/><circle cx="723.1" cy="195.3" r="3.8"/><circle cx="732.6" cy="198.6" r="3.8"/><circle cx="716.0" cy="194.4" r="3.8"/><circle cx="739.8" cy="213.8" r="3.8"/><circle cx="749.8" cy="212.6" r="3.8"/><circle cx="724.1" cy="249.8" r="3.8"/><circle cx="755.6" cy="240.5" r="3.8"/><circle cx="718.8" cy="196.4" r="3.8"/><circle cx="712.3" cy="191.6" r="3.8"/><circle cx="720.0" cy="208.9" r="3.8"/><circle cx="704.6" cy="184.3" r="3.8"/><circle cx="721.4" cy="190.8" r="3.8"/><circle cx="728.0" cy="249.5" r="3.8"/><circle cx="746.8" cy="181.6" r="3.8"/><circle cx="707.0" cy="213.3" r="3.8"/><circle cx="722.6" cy="202.3" r="3.8"/><circle cx="757.7" cy="182.8" r="3.8"/><circle cx="722.9" cy="175.2" r="3.8"/><circle cx="717.2" cy="229.7" r="3.8"/><circle cx="730.8" cy="174.7" r="3.8"/><circle cx="725.8" cy="192.1" r="3.8"/><circle cx="710.9" cy="182.0" r="3.8"/><circle cx="724.2" cy="224.4" r="3.8"/><circle cx="710.1" cy="248.5" r="3.8"/><circle cx="742.2" cy="234.1" r="3.8"/><circle cx="741.4" cy="226.1" r="3.8"/><circle cx="711.5" cy="188.2" r="3.8"/><circle cx="725.0" cy="185.0" r="3.8"/><circle cx="702.9" cy="212.1" r="3.8"/><circle cx="729.3" cy="218.8" r="3.8"/><circle cx="700.8" cy="244.4" r="3.8"/><circle cx="707.5" cy="244.1" r="3.8"/><circle cx="758.0" cy="170.7" r="3.8"/><circle cx="739.9" cy="194.3" r="3.8"/><circle cx="750.2" cy="181.0" r="3.8"/><circle cx="738.1" cy="233.9" r="3.8"/><circle cx="720.6" cy="236.3" r="3.8"/><circle cx="715.4" cy="249.1" r="3.8"/><circle cx="735.5" cy="229.5" r="3.8"/><circle cx="717.7" cy="174.8" r="3.8"/><circle cx="719.8" cy="243.0" r="3.8"/><circle cx="698.8" cy="247.1" r="3.8"/><circle cx="739.7" cy="244.0" r="3.8"/><circle cx="743.9" cy="249.5" r="3.8"/><circle cx="704.8" cy="198.9" r="3.8"/><circle cx="708.0" cy="208.2" r="3.8"/><circle cx="742.2" cy="191.6" r="3.8"/><circle cx="732.7" cy="208.8" r="3.8"/><circle cx="744.6" cy="179.2" r="3.8"/><circle cx="736.5" cy="170.1" r="3.8"/><circle cx="731.2" cy="224.9" r="3.8"/><circle cx="713.8" cy="179.7" r="3.8"/><circle cx="706.3" cy="227.7" r="3.8"/><circle cx="698.7" cy="228.7" r="3.8"/><circle cx="746.8" cy="223.0" r="3.8"/><circle cx="753.5" cy="199.7" r="3.8"/><circle cx="729.2" cy="190.1" r="3.8"/><circle cx="754.0" cy="170.1" r="3.8"/><circle cx="723.1" cy="187.6" r="3.8"/><circle cx="732.8" cy="212.0" r="3.8"/><circle cx="703.5" cy="179.3" r="3.8"/><circle cx="702.7" cy="170.6" r="3.8"/><circle cx="743.1" cy="237.7" r="3.8"/><circle cx="713.6" cy="209.9" r="3.8"/><circle cx="753.8" cy="235.6" r="3.8"/><circle cx="724.9" cy="220.1" r="3.8"/><circle cx="753.8" cy="189.5" r="3.8"/><circle cx="746.3" cy="206.9" r="3.8"/><circle cx="708.6" cy="233.0" r="3.8"/><circle cx="748.8" cy="237.4" r="3.8"/><circle cx="756.7" cy="224.7" r="3.8"/><circle cx="697.9" cy="220.8" r="3.8"/><circle cx="718.9" cy="193.2" r="3.8"/><circle cx="749.9" cy="242.5" r="3.8"/><circle cx="702.9" cy="226.1" r="3.8"/><circle cx="733.5" cy="180.8" r="3.8"/><circle cx="730.4" cy="171.0" r="3.8"/><circle cx="748.4" cy="173.5" r="3.8"/><circle cx="723.0" cy="242.4" r="3.8"/><circle cx="723.2" cy="209.7" r="3.8"/><circle cx="706.7" cy="218.3" r="3.8"/><circle cx="747.7" cy="233.1" r="3.8"/><circle cx="717.7" cy="202.6" r="3.8"/><circle cx="745.3" cy="174.3" r="3.8"/><circle cx="731.7" cy="267.0" r="3.8"/><circle cx="741.0" cy="249.1" r="3.8"/><circle cx="727.9" cy="327.6" r="3.8"/><circle cx="725.3" cy="314.9" r="3.8"/><circle cx="745.6" cy="298.8" r="3.8"/><circle cx="748.8" cy="283.6" r="3.8"/><circle cx="708.2" cy="318.3" r="3.8"/><circle cx="751.5" cy="316.5" r="3.8"/><circle cx="733.2" cy="320.4" r="3.8"/><circle cx="743.4" cy="271.5" r="3.8"/><circle cx="704.8" cy="317.8" r="3.8"/><circle cx="720.8" cy="305.5" r="3.8"/><circle cx="755.1" cy="288.4" r="3.8"/><circle cx="726.6" cy="263.8" r="3.8"/><circle cx="755.2" cy="273.1" r="3.8"/><circle cx="729.3" cy="323.2" r="3.8"/><circle cx="720.2" cy="267.0" r="3.8"/><circle cx="698.6" cy="291.9" r="3.8"/><circle cx="729.8" cy="249.6" r="3.8"/><circle cx="709.5" cy="298.6" r="3.8"/><circle cx="727.7" cy="298.2" r="3.8"/><circle cx="737.3" cy="304.6" r="3.8"/><circle cx="726.6" cy="268.1" r="3.8"/><circle cx="722.4" cy="272.0" r="3.8"/><circle cx="704.8" cy="309.8" r="3.8"/><circle cx="726.5" cy="318.8" r="3.8"/><circle cx="720.5" cy="262.7" r="3.8"/><circle cx="718.6" cy="312.5" r="3.8"/><circle cx="716.2" cy="258.4" r="3.8"/><circle cx="724.5" cy="275.7" r="3.8"/><circle cx="746.3" cy="248.4" r="3.8"/><circle cx="713.4" cy="322.2" r="3.8"/><circle cx="715.0" cy="295.1" r="3.8"/><circle cx="750.5" cy="321.9" r="3.8"/><circle cx="736.3" cy="249.1" r="3.8"/><circle cx="746.2" cy="268.2" r="3.8"/><circle cx="741.8" cy="286.2" r="3.8"/><circle cx="745.9" cy="290.8" r="3.8"/><circle cx="745.5" cy="321.7" r="3.8"/><circle cx="702.5" cy="313.9" r="3.8"/><circle cx="713.1" cy="252.0" r="3.8"/><circle cx="729.6" cy="269.5" r="3.8"/><circle cx="705.9" cy="252.4" r="3.8"/><circle cx="703.9" cy="258.0" r="3.8"/><circle cx="749.3" cy="326.0" r="3.8"/><circle cx="725.9" cy="254.9" r="3.8"/><circle cx="719.2" cy="273.3" r="3.8"/><circle cx="709.0" cy="254.4" r="3.8"/><circle cx="738.4" cy="287.7" r="3.8"/><circle cx="721.4" cy="253.7" r="3.8"/><circle cx="741.9" cy="301.9" r="3.8"/><circle cx="733.5" cy="324.2" r="3.8"/><circle cx="722.9" cy="308.3" r="3.8"/><circle cx="728.5" cy="301.9" r="3.8"/><circle cx="739.0" cy="255.7" r="3.8"/><circle cx="753.4" cy="259.5" r="3.8"/><circle cx="722.0" cy="316.5" r="3.8"/><circle cx="747.1" cy="316.7" r="3.8"/><circle cx="715.2" cy="248.6" r="3.8"/><circle cx="741.2" cy="269.2" r="3.8"/><circle cx="704.5" cy="290.9" r="3.8"/><circle cx="708.7" cy="293.3" r="3.8"/><circle cx="749.8" cy="262.3" r="3.8"/><circle cx="714.6" cy="288.4" r="3.8"/><circle cx="737.1" cy="310.3" r="3.8"/><circle cx="731.4" cy="290.2" r="3.8"/><circle cx="744.5" cy="312.2" r="3.8"/><circle cx="750.7" cy="298.7" r="3.8"/><circle cx="725.5" cy="289.9" r="3.8"/><circle cx="724.3" cy="251.0" r="3.8"/><circle cx="717.5" cy="252.1" r="3.8"/><circle cx="740.6" cy="322.2" r="3.8"/><circle cx="726.9" cy="308.6" r="3.8"/><circle cx="730.5" cy="260.9" r="3.8"/><circle cx="727.3" cy="272.4" r="3.8"/><circle cx="711.3" cy="295.7" r="3.8"/><circle cx="700.7" cy="252.8" r="3.8"/><circle cx="717.8" cy="322.6" r="3.8"/><circle cx="698.3" cy="295.4" r="3.8"/><circle cx="747.8" cy="271.5" r="3.8"/><circle cx="720.7" cy="257.2" r="3.8"/><circle cx="711.6" cy="281.2" r="3.8"/><circle cx="752.1" cy="266.4" r="3.8"/><circle cx="707.6" cy="314.0" r="3.8"/><circle cx="744.2" cy="308.9" r="3.8"/><circle cx="704.3" cy="283.6" r="3.8"/><circle cx="723.7" cy="265.1" r="3.8"/><circle cx="753.5" cy="327.8" r="3.8"/><circle cx="752.2" cy="271.4" r="3.8"/><circle cx="718.6" cy="307.7" r="3.8"/><circle cx="745.5" cy="326.3" r="3.8"/><circle cx="707.7" cy="262.8" r="3.8"/><circle cx="753.7" cy="324.0" r="3.8"/><circle cx="706.8" cy="259.4" r="3.8"/><circle cx="746.5" cy="263.2" r="3.8"/><circle cx="702.7" cy="273.1" r="3.8"/><circle cx="749.4" cy="311.5" r="3.8"/><circle cx="749.1" cy="290.5" r="3.8"/><circle cx="731.1" cy="326.9" r="3.8"/><circle cx="701.2" cy="276.1" r="3.8"/><circle cx="740.2" cy="326.3" r="3.8"/><circle cx="749.8" cy="308.3" r="3.8"/><circle cx="745.6" cy="285.5" r="3.8"/><circle cx="757.2" cy="275.7" r="3.8"/><circle cx="702.9" cy="279.8" r="3.8"/><circle cx="718.7" cy="270.1" r="3.8"/><circle cx="728.1" cy="293.7" r="3.8"/><circle cx="724.6" cy="303.0" r="3.8"/><circle cx="738.0" cy="315.8" r="3.8"/><circle cx="752.5" cy="284.5" r="3.8"/><circle cx="706.9" cy="304.1" r="3.8"/><circle cx="718.7" cy="289.5" r="3.8"/><circle cx="748.5" cy="256.0" r="3.8"/><circle cx="747.7" cy="251.5" r="3.8"/><circle cx="730.2" cy="304.9" r="3.8"/><circle cx="754.3" cy="262.9" r="3.8"/><circle cx="730.5" cy="318.0" r="3.8"/><circle cx="713.3" cy="325.6" r="3.8"/><circle cx="700.8" cy="287.1" r="3.8"/><circle cx="715.3" cy="270.9" r="3.8"/><circle cx="743.2" cy="317.0" r="3.8"/><circle cx="699.6" cy="282.1" r="3.8"/><circle cx="712.9" cy="255.2" r="3.8"/><circle cx="747.3" cy="301.7" r="3.8"/><circle cx="701.3" cy="323.1" r="3.8"/><circle cx="722.4" cy="288.2" r="3.8"/><circle cx="717.7" cy="300.7" r="3.8"/><circle cx="711.7" cy="258.1" r="3.8"/><circle cx="717.2" cy="316.5" r="3.8"/><circle cx="723.7" cy="260.4" r="3.8"/><circle cx="747.7" cy="295.4" r="3.8"/><circle cx="756.9" cy="295.9" r="3.8"/><circle cx="734.3" cy="316.1" r="3.8"/><circle cx="743.1" cy="324.2" r="3.8"/><circle cx="737.0" cy="268.8" r="3.8"/><circle cx="735.4" cy="307.7" r="3.8"/><circle cx="723.9" cy="311.4" r="3.8"/><circle cx="749.6" cy="259.0" r="3.8"/><circle cx="738.2" cy="251.8" r="3.8"/><circle cx="717.1" cy="275.8" r="3.8"/><circle cx="709.2" cy="248.3" r="3.8"/><circle cx="699.1" cy="249.4" r="3.8"/><circle cx="716.1" cy="291.3" r="3.8"/><circle cx="749.0" cy="286.8" r="3.8"/><circle cx="748.6" cy="265.9" r="3.8"/><circle cx="744.0" cy="265.7" r="3.8"/><circle cx="735.5" cy="327.3" r="3.8"/><circle cx="756.9" cy="279.2" r="3.8"/><circle cx="754.2" cy="319.9" r="3.8"/><circle cx="702.6" cy="269.4" r="3.8"/><circle cx="727.3" cy="258.1" r="3.8"/><circle cx="727.6" cy="251.9" r="3.8"/><circle cx="751.8" cy="255.5" r="3.8"/><circle cx="703.4" cy="254.6" r="3.8"/><circle cx="757.5" cy="327.6" r="3.8"/><circle cx="709.9" cy="321.1" r="3.8"/><circle cx="738.2" cy="301.3" r="3.8"/><circle cx="740.5" cy="318.7" r="3.8"/><circle cx="756.5" cy="291.4" r="3.8"/><circle cx="723.3" cy="269.0" r="3.8"/><circle cx="700.3" cy="257.5" r="3.8"/><circle cx="706.2" cy="280.4" r="3.8"/><circle cx="704.5" cy="287.7" r="3.8"/><circle cx="719.7" cy="318.9" r="3.8"/><circle cx="714.3" cy="277.9" r="3.8"/><circle cx="739.0" cy="307.3" r="3.8"/><circle cx="701.4" cy="326.8" r="3.8"/><circle cx="734.6" cy="288.6" r="3.8"/><circle cx="707.0" cy="300.7" r="3.8"/><circle cx="733.8" cy="269.9" r="3.8"/><circle cx="729.9" cy="264.2" r="3.8"/><circle cx="748.3" cy="319.6" r="3.8"/><circle cx="712.6" cy="291.6" r="3.8"/><circle cx="754.6" cy="281.6" r="3.8"/><circle cx="713.4" cy="284.6" r="3.8"/><circle cx="726.5" cy="248.6" r="3.8"/><circle cx="707.1" cy="307.2" r="3.8"/><circle cx="717.6" cy="255.3" r="3.8"/><circle cx="716.3" cy="319.5" r="3.8"/><circle cx="703.6" cy="320.9" r="3.8"/><circle cx="749.9" cy="269.0" r="3.8"/><circle cx="698.3" cy="285.0" r="3.8"/><circle cx="721.1" cy="275.9" r="3.8"/><circle cx="732.9" cy="248.1" r="3.8"/><circle cx="743.2" cy="289.0" r="3.8"/><circle cx="752.0" cy="288.1" r="3.8"/><circle cx="727.0" cy="305.1" r="3.8"/><circle cx="721.2" cy="327.9" r="3.8"/><circle cx="700.2" cy="328.4" r="3.8"/><circle cx="698.6" cy="334.2" r="3.8"/><circle cx="706.8" cy="338.2" r="3.8"/><circle cx="714.1" cy="328.4" r="3.8"/><circle cx="717.4" cy="334.2" r="3.8"/><circle cx="714.9" cy="339.9" r="3.8"/><circle cx="720.6" cy="336.6" r="3.8"/><circle cx="722.3" cy="342.3" r="3.8"/><circle cx="714.9" cy="344.8" r="3.8"/><circle cx="720.6" cy="348.0" r="3.8"/><circle cx="724.7" cy="352.9" r="3.8"/><circle cx="733.7" cy="328.4" r="3.8"/><circle cx="735.4" cy="332.5" r="3.8"/><circle cx="729.6" cy="342.3" r="3.8"/><circle cx="735.4" cy="344.0" r="3.8"/><circle cx="740.2" cy="340.7" r="3.8"/><circle cx="745.1" cy="334.2" r="3.8"/><circle cx="746.8" cy="328.4" r="3.8"/><circle cx="755.8" cy="329.3" r="3.8"/><circle cx="754.9" cy="335.0" r="3.8"/><circle cx="756.6" cy="340.7" r="3.8"/><circle cx="751.7" cy="344.8" r="3.8"/><circle cx="697.4" cy="350.1" r="3.8"/><circle cx="697.4" cy="358.2" r="3.8"/><circle cx="708.4" cy="349.7" r="3.8"/><circle cx="705.5" cy="355.8" r="3.8"/><circle cx="718.2" cy="357.8" r="3.8"/><circle cx="727.2" cy="359.5" r="3.8"/><circle cx="723.9" cy="354.6" r="3.8"/><circle cx="734.5" cy="358.6" r="3.8"/><circle cx="737.0" cy="354.2" r="3.8"/><circle cx="741.1" cy="351.3" r="3.8"/><circle cx="745.1" cy="349.7" r="3.8"/><circle cx="751.7" cy="350.5" r="3.8"/><circle cx="750.0" cy="356.2" r="3.8"/><circle cx="745.1" cy="358.6" r="3.8"/><circle cx="748.4" cy="362.7" r="3.8"/><circle cx="755.8" cy="366.0" r="3.8"/><circle cx="750.9" cy="370.1" r="3.8"/><circle cx="718.2" cy="366.8" r="3.8"/><circle cx="699.4" cy="369.3" r="3.8"/><circle cx="706.0" cy="369.3" r="3.8"/><circle cx="710.9" cy="371.7" r="3.8"/><circle cx="701.9" cy="375.0" r="3.8"/><circle cx="706.0" cy="376.6" r="3.8"/><circle cx="732.1" cy="368.4" r="3.8"/><circle cx="737.0" cy="369.3" r="3.8"/><circle cx="725.5" cy="372.5" r="3.8"/><circle cx="720.6" cy="376.6" r="3.8"/><circle cx="714.1" cy="379.9" r="3.8"/><circle cx="741.1" cy="378.2" r="3.8"/><circle cx="733.7" cy="380.7" r="3.8"/><circle cx="737.0" cy="383.1" r="3.8"/><circle cx="701.9" cy="384.8" r="3.8"/><circle cx="710.9" cy="386.4" r="3.8"/><circle cx="716.6" cy="384.8" r="3.8"/><circle cx="706.8" cy="391.3" r="3.8"/><circle cx="699.4" cy="391.3" r="3.8"/><circle cx="697.8" cy="397.8" r="3.8"/><circle cx="704.3" cy="397.8" r="3.8"/><circle cx="714.9" cy="391.3" r="3.8"/><circle cx="722.3" cy="390.5" r="3.8"/><circle cx="728.8" cy="390.5" r="3.8"/><circle cx="735.4" cy="388.9" r="3.8"/><circle cx="741.9" cy="387.2" r="3.8"/><circle cx="751.7" cy="384.0" r="3.8"/><circle cx="750.0" cy="391.3" r="3.8"/><circle cx="743.5" cy="393.8" r="3.8"/><circle cx="753.3" cy="397.0" r="3.8"/><circle cx="751.7" cy="401.1" r="3.8"/><circle cx="708.4" cy="401.9" r="3.8"/><circle cx="716.6" cy="399.5" r="3.8"/><circle cx="723.9" cy="395.4" r="3.8"/><circle cx="730.5" cy="396.2" r="3.8"/><circle cx="739.4" cy="397.0" r="3.8"/><circle cx="716.6" cy="402.7" r="3.8"/><circle cx="744.3" cy="340.7" r="3.8"/><circle cx="747.6" cy="344.8" r="3.8"/><circle cx="727.2" cy="347.2" r="3.8"/><circle cx="732.1" cy="348.0" r="3.8"/><circle cx="745.1" cy="353.8" r="3.8"/><circle cx="753.3" cy="360.3" r="3.8"/><circle cx="712.5" cy="375.0" r="3.8"/><circle cx="728.8" cy="370.1" r="3.8"/><circle cx="737.8" cy="375.8" r="3.8"/><circle cx="744.3" cy="382.3" r="3.8"/><circle cx="710.9" cy="396.2" r="3.8"/><circle cx="733.7" cy="392.9" r="3.8"/><circle cx="737.8" cy="392.9" r="3.8"/><circle cx="722.3" cy="399.5" r="3.8"/>
</g>
<text x="728.5" y="28" font-size="32.3" text-anchor="middle" fill="#000000">1000 Random Walk Particles</text>
<text x="1255.7" y="98" font-size="38" word-spacing="1.2" text-anchor="middle" fill="#000000">t = 2</text>
<text x="116.5" y="442.2" font-size="30.67" text-anchor="middle" fill="#262626">-10</text>
<text x="238.8" y="442.2" font-size="30.67" text-anchor="middle" fill="#262626">-8</text>
<text x="361.1" y="442.2" font-size="30.67" text-anchor="middle" fill="#262626">-6</text>
<text x="483.4" y="442.2" font-size="30.67" text-anchor="middle" fill="#262626">-4</text>
<text x="605.7" y="442.2" font-size="30.67" text-anchor="middle" fill="#262626">-2</text>
<text x="728.0" y="442.2" font-size="30.67" text-anchor="middle" fill="#262626">0</text>
<text x="850.3" y="442.2" font-size="30.67" text-anchor="middle" fill="#262626">2</text>
<text x="972.6" y="442.2" font-size="30.67" text-anchor="middle" fill="#262626">4</text>
<text x="1094.9" y="442.2" font-size="30.67" text-anchor="middle" fill="#262626">6</text>
<text x="1217.2" y="442.2" font-size="30.67" text-anchor="middle" fill="#262626">8</text>
<text x="1339.5" y="442.2" font-size="30.67" text-anchor="middle" fill="#262626">10</text>
<text x="116.5" y="935.2" font-size="30.67" text-anchor="middle" fill="#262626">-10</text>
<text x="238.8" y="935.2" font-size="30.67" text-anchor="middle" fill="#262626">-8</text>
<text x="361.1" y="935.2" font-size="30.67" text-anchor="middle" fill="#262626">-6</text>
<text x="483.4" y="935.2" font-size="30.67" text-anchor="middle" fill="#262626">-4</text>
<text x="605.7" y="935.2" font-size="30.67" text-anchor="middle" fill="#262626">-2</text>
<text x="728.0" y="935.2" font-size="30.67" text-anchor="middle" fill="#262626">0</text>
<text x="850.3" y="935.2" font-size="30.67" text-anchor="middle" fill="#262626">2</text>
<text x="972.6" y="935.2" font-size="30.67" text-anchor="middle" fill="#262626">4</text>
<text x="1094.9" y="935.2" font-size="30.67" text-anchor="middle" fill="#262626">6</text>
<text x="1217.2" y="935.2" font-size="30.67" text-anchor="middle" fill="#262626">8</text>
<text x="1339.5" y="935.2" font-size="30.67" text-anchor="middle" fill="#262626">10</text>
<text x="727.5" y="481.7" font-size="32.3" text-anchor="middle" fill="#262626">x-axis</text>
<text x="727.5" y="974.7" font-size="32.3" text-anchor="middle" fill="#262626">x-axis</text>
<text transform="translate(99.5,220.3) rotate(-90)" font-size="32.7" text-anchor="middle" fill="#262626">Particles</text>
<text transform="translate(28,713.5) rotate(-90)" font-size="32.3" text-anchor="middle" fill="#262626">Particles per Bin</text>
<g id="bottom-axes">
<path d="M238.50 895.00V882.00M238.50 533.00V546.00M360.50 895.00V882.00M360.50 533.00V546.00M482.50 895.00V882.00M482.50 533.00V546.00M605.50 895.00V882.00M605.50 533.00V546.00M727.50 895.00V882.00M727.50 533.00V546.00M849.50 895.00V882.00M849.50 533.00V546.00M972.50 895.00V882.00M972.50 533.00V546.00M1094.50 895.00V882.00M1094.50 533.00V546.00M1216.50 895.00V882.00M1216.50 533.00V546.00M117.00 822.50H130.00M1339.00 822.50H1326.00M117.00 749.50H130.00M1339.00 749.50H1326.00M117.00 677.50H130.00M1339.00 677.50H1326.00M117.00 604.50H130.00M1339.00 604.50H1326.00" stroke="#262626" stroke-width="1" fill="none" shape-rendering="crispEdges"/>
<rect x="116.50" y="532.50" width="1223.00" height="363.00" fill="none" stroke="#262626" stroke-width="1" shape-rendering="crispEdges"/>
</g>
<text x="106.5" y="906.8" font-size="30.67" letter-spacing="-0.4" text-anchor="end" fill="#262626">0</text>
<text x="106.5" y="834.2" font-size="30.67" letter-spacing="-0.4" text-anchor="end" fill="#262626">200</text>
<text x="106.5" y="761.6" font-size="30.67" letter-spacing="-0.4" text-anchor="end" fill="#262626">400</text>
<text x="106.5" y="689.0" font-size="30.67" letter-spacing="-0.4" text-anchor="end" fill="#262626">600</text>
<text x="106.5" y="616.4" font-size="30.67" letter-spacing="-0.4" text-anchor="end" fill="#262626">800</text>
<text x="106.5" y="543.8" font-size="30.67" letter-spacing="-0.4" text-anchor="end" fill="#262626">1000</text>
<polyline points="116.00,895.00 117.53,895.00 119.06,895.00 120.59,895.00 122.11,895.00 123.64,895.00 125.17,895.00 126.70,895.00 128.23,895.00 129.76,895.00 131.29,895.00 132.82,895.00 134.35,895.00 135.87,895.00 137.40,895.00 138.93,895.00 140.46,895.00 141.99,895.00 143.52,895.00 145.05,895.00 146.57,895.00 148.10,895.00 149.63,895.00 151.16,895.00 152.69,895.00 154.22,895.00 155.75,895.00 157.28,895.00 158.80,895.00 160.33,895.00 161.86,895.00 163.39,895.00 164.92,895.00 166.45,895.00 167.98,895.00 169.51,895.00 171.04,895.00 172.56,895.00 174.09,895.00 175.62,895.00 177.15,895.00 178.68,895.00 180.21,895.00 181.74,895.00 183.26,895.00 184.79,895.00 186.32,895.00 187.85,895.00 189.38,895.00 190.91,895.00 192.44,895.00 193.97,895.00 195.50,895.00 197.02,895.00 198.55,895.00 200.08,895.00 201.61,895.00 203.14,895.00 204.67,895.00 206.20,895.00 207.72,895.00 209.25,895.00 210.78,895.00 212.31,895.00 213.84,895.00 215.37,895.00 216.90,895.00 218.43,895.00 219.95,895.00 221.48,895.00 223.01,895.00 224.54,895.00 226.07,895.00 227.60,895.00 229.13,895.00 230.66,895.00 232.19,895.00 233.71,895.00 235.24,895.00 236.77,895.00 238.30,895.00 239.83,895.00 241.36,895.00 242.89,895.00 244.41,895.00 245.94,895.00 247.47,895.00 249.00,895.00 250.53,895.00 252.06,895.00 253.59,895.00 255.12,895.00 256.64,895.00 258.17,895.00 259.70,895.00 261.23,895.00 262.76,895.00 264.29,895.00 265.82,895.00 267.35,895.00 268.88,895.00 270.40,895.00 271.93,895.00 273.46,895.00 274.99,895.00 276.52,895.00 278.05,895.00 279.58,895.00 281.11,895.00 282.63,895.00 284.16,895.00 285.69,895.00 287.22,895.00 288.75,895.00 290.28,895.00 291.81,895.00 293.34,895.00 294.86,895.00 296.39,895.00 297.92,895.00 299.45,895.00 300.98,895.00 302.51,895.00 304.04,895.00 305.56,895.00 307.09,895.00 308.62,895.00 310.15,895.00 311.68,895.00 313.21,895.00 314.74,895.00 316.27,895.00 317.79,895.00 319.32,895.00 320.85,895.00 322.38,895.00 323.91,895.00 325.44,895.00 326.97,895.00 328.50,895.00 330.02,894.99 331.55,894.99 333.08,894.99 334.61,894.99 336.14,894.99 337.67,894.99 339.20,894.99 340.73,894.99 342.25,894.99 343.78,894.99 345.31,894.99 346.84,894.99 348.37,894.99 349.90,894.99 351.43,894.98 352.96,894.98 354.49,894.98 356.01,894.98 357.54,894.98 359.07,894.98 360.60,894.97 362.13,894.97 363.66,894.97 365.19,894.97 366.71,894.97 368.24,894.96 369.77,894.96 371.30,894.96 372.83,894.95 374.36,894.95 375.89,894.95 377.42,894.94 378.94,894.94 380.47,894.93 382.00,894.93 383.53,894.92 385.06,894.92 386.59,894.91 388.12,894.91 389.65,894.90 391.18,894.89 392.70,894.89 394.23,894.88 395.76,894.87 397.29,894.86 398.82,894.85 400.35,894.84 401.88,894.83 403.41,894.82 404.93,894.80 406.46,894.79 407.99,894.78 409.52,894.76 411.05,894.75 412.58,894.73 414.11,894.71 415.64,894.69 417.16,894.67 418.69,894.65 420.22,894.63 421.75,894.60 423.28,894.58 424.81,894.55 426.34,894.52 427.87,894.49 429.39,894.46 430.92,894.43 432.45,894.39 433.98,894.35 435.51,894.31 437.04,894.27 438.57,894.23 440.10,894.18 441.62,894.13 443.15,894.08 444.68,894.03 446.21,893.97 447.74,893.91 449.27,893.84 450.80,893.77 452.33,893.70 453.85,893.63 455.38,893.55 456.91,893.47 458.44,893.38 459.97,893.29 461.50,893.19 463.03,893.09 464.56,892.99 466.08,892.88 467.61,892.76 469.14,892.64 470.67,892.51 472.20,892.38 473.73,892.24 475.26,892.09 476.79,891.94 478.31,891.78 479.84,891.61 481.37,891.43 482.90,891.25 484.43,891.06 485.96,890.86 487.49,890.65 489.01,890.43 490.54,890.20 492.07,889.97 493.60,889.72 495.13,889.46 496.66,889.19 498.19,888.91 499.72,888.62 501.25,888.32 502.77,888.00 504.30,887.67 505.83,887.33 507.36,886.98 508.89,886.61 510.42,886.23 511.95,885.83 513.48,885.42 515.00,884.99 516.53,884.55 518.06,884.09 519.59,883.62 521.12,883.13 522.65,882.62 524.18,882.09 525.71,881.54 527.23,880.98 528.76,880.39 530.29,879.79 531.82,879.17 533.35,878.52 534.88,877.86 536.41,877.17 537.94,876.47 539.46,875.74 540.99,874.99 542.52,874.21 544.05,873.41 545.58,872.59 547.11,871.75 548.64,870.88 550.16,869.98 551.69,869.06 553.22,868.12 554.75,867.15 556.28,866.15 557.81,865.13 559.34,864.08 560.87,863.00 562.39,861.90 563.92,860.77 565.45,859.61 566.98,858.42 568.51,857.21 570.04,855.97 571.57,854.70 573.10,853.40 574.62,852.07 576.15,850.72 577.68,849.33 579.21,847.92 580.74,846.48 582.27,845.01 583.80,843.51 585.33,841.98 586.86,840.43 588.38,838.84 589.91,837.23 591.44,835.59 592.97,833.93 594.50,832.24 596.03,830.52 597.56,828.77 599.09,827.00 600.61,825.20 602.14,823.38 603.67,821.53 605.20,819.66 606.73,817.76 608.26,815.84 609.79,813.90 611.31,811.94 612.84,809.96 614.37,807.96 615.90,805.93 617.43,803.89 618.96,801.83 620.49,799.76 622.02,797.67 623.55,795.56 625.07,793.44 626.60,791.31 628.13,789.16 629.66,787.01 631.19,784.85 632.72,782.67 634.25,780.49 635.77,778.31 637.30,776.12 638.83,773.92 640.36,771.73 641.89,769.53 643.42,767.34 644.95,765.15 646.48,762.96 648.00,760.77 649.53,758.59 651.06,756.42 652.59,754.26 654.12,752.12 655.65,749.98 657.18,747.86 658.71,745.75 660.24,743.66 661.76,741.59 663.29,739.54 664.82,737.51 666.35,735.50 667.88,733.52 669.41,731.57 670.94,729.64 672.46,727.74 673.99,725.88 675.52,724.04 677.05,722.24 678.58,720.48 680.11,718.75 681.64,717.07 683.17,715.42 684.70,713.81 686.22,712.25 687.75,710.73 689.28,709.25 690.81,707.83 692.34,706.45 693.87,705.12 695.40,703.84 696.92,702.61 698.45,701.43 699.98,700.31 701.51,699.24 703.04,698.23 704.57,697.27 706.10,696.38 707.63,695.54 709.15,694.76 710.68,694.03 712.21,693.37 713.74,692.77 715.27,692.24 716.80,691.76 718.33,691.35 719.86,691.00 721.38,690.71 722.91,690.49 724.44,690.33 725.97,690.23 727.50,690.20 729.03,690.23 730.56,690.33 732.09,690.49 733.62,690.71 735.14,691.00 736.67,691.35 738.20,691.76 739.73,692.24 741.26,692.77 742.79,693.37 744.32,694.03 745.85,694.76 747.37,695.54 748.90,696.38 750.43,697.27 751.96,698.23 753.49,699.24 755.02,700.31 756.55,701.43 758.08,702.61 759.60,703.84 761.13,705.12 762.66,706.45 764.19,707.83 765.72,709.25 767.25,710.73 768.78,712.25 770.30,713.81 771.83,715.42 773.36,717.07 774.89,718.75 776.42,720.48 777.95,722.24 779.48,724.04 781.01,725.88 782.54,727.74 784.06,729.64 785.59,731.57 787.12,733.52 788.65,735.50 790.18,737.51 791.71,739.54 793.24,741.59 794.76,743.66 796.29,745.75 797.82,747.86 799.35,749.98 800.88,752.12 802.41,754.26 803.94,756.42 805.47,758.59 807.00,760.77 808.52,762.96 810.05,765.15 811.58,767.34 813.11,769.53 814.64,771.73 816.17,773.92 817.70,776.12 819.22,778.31 820.75,780.49 822.28,782.67 823.81,784.85 825.34,787.01 826.87,789.16 828.40,791.31 829.93,793.44 831.45,795.56 832.98,797.67 834.51,799.76 836.04,801.83 837.57,803.89 839.10,805.93 840.63,807.96 842.16,809.96 843.68,811.94 845.21,813.90 846.74,815.84 848.27,817.76 849.80,819.66 851.33,821.53 852.86,823.38 854.39,825.20 855.91,827.00 857.44,828.77 858.97,830.52 860.50,832.24 862.03,833.93 863.56,835.59 865.09,837.23 866.62,838.84 868.14,840.43 869.67,841.98 871.20,843.51 872.73,845.01 874.26,846.48 875.79,847.92 877.32,849.33 878.85,850.72 880.38,852.07 881.90,853.40 883.43,854.70 884.96,855.97 886.49,857.21 888.02,858.42 889.55,859.61 891.08,860.77 892.61,861.90 894.13,863.00 895.66,864.08 897.19,865.13 898.72,866.15 900.25,867.15 901.78,868.12 903.31,869.06 904.84,869.98 906.36,870.88 907.89,871.75 909.42,872.59 910.95,873.41 912.48,874.21 914.01,874.99 915.54,875.74 917.07,876.47 918.59,877.17 920.12,877.86 921.65,878.52 923.18,879.17 924.71,879.79 926.24,880.39 927.77,880.98 929.30,881.54 930.82,882.09 932.35,882.62 933.88,883.13 935.41,883.62 936.94,884.09 938.47,884.55 940.00,884.99 941.53,885.42 943.05,885.83 944.58,886.23 946.11,886.61 947.64,886.98 949.17,887.33 950.70,887.67 952.23,888.00 953.75,888.32 955.28,888.62 956.81,888.91 958.34,889.19 959.87,889.46 961.40,889.72 962.93,889.97 964.46,890.20 965.99,890.43 967.51,890.65 969.04,890.86 970.57,891.06 972.10,891.25 973.63,891.43 975.16,891.61 976.69,891.78 978.21,891.94 979.74,892.09 981.27,892.24 982.80,892.38 984.33,892.51 985.86,892.64 987.39,892.76 988.92,892.88 990.45,892.99 991.97,893.09 993.50,893.19 995.03,893.29 996.56,893.38 998.09,893.47 999.62,893.55 1001.15,893.63 1002.67,893.70 1004.20,893.77 1005.73,893.84 1007.26,893.91 1008.79,893.97 1010.32,894.03 1011.85,894.08 1013.38,894.13 1014.90,894.18 1016.43,894.23 1017.96,894.27 1019.49,894.31 1021.02,894.35 1022.55,894.39 1024.08,894.43 1025.61,894.46 1027.13,894.49 1028.66,894.52 1030.19,894.55 1031.72,894.58 1033.25,894.60 1034.78,894.63 1036.31,894.65 1037.84,894.67 1039.37,894.69 1040.89,894.71 1042.42,894.73 1043.95,894.75 1045.48,894.76 1047.01,894.78 1048.54,894.79 1050.07,894.80 1051.60,894.82 1053.12,894.83 1054.65,894.84 1056.18,894.85 1057.71,894.86 1059.24,894.87 1060.77,894.88 1062.30,894.89 1063.83,894.89 1065.35,894.90 1066.88,894.91 1068.41,894.91 1069.94,894.92 1071.47,894.92 1073.00,894.93 1074.53,894.93 1076.05,894.94 1077.58,894.94 1079.11,894.95 1080.64,894.95 1082.17,894.95 1083.70,894.96 1085.23,894.96 1086.76,894.96 1088.29,894.97 1089.81,894.97 1091.34,894.97 1092.87,894.97 1094.40,894.97 1095.93,894.98 1097.46,894.98 1098.99,894.98 1100.52,894.98 1102.04,894.98 1103.57,894.98 1105.10,894.99 1106.63,894.99 1108.16,894.99 1109.69,894.99 1111.22,894.99 1112.75,894.99 1114.27,894.99 1115.80,894.99 1117.33,894.99 1118.86,894.99 1120.39,894.99 1121.92,894.99 1123.45,894.99 1124.97,894.99 1126.50,895.00 1128.03,895.00 1129.56,895.00 1131.09,895.00 1132.62,895.00 1134.15,895.00 1135.68,895.00 1137.20,895.00 1138.73,895.00 1140.26,895.00 1141.79,895.00 1143.32,895.00 1144.85,895.00 1146.38,895.00 1147.91,895.00 1149.43,895.00 1150.96,895.00 1152.49,895.00 1154.02,895.00 1155.55,895.00 1157.08,895.00 1158.61,895.00 1160.14,895.00 1161.67,895.00 1163.19,895.00 1164.72,895.00 1166.25,895.00 1167.78,895.00 1169.31,895.00 1170.84,895.00 1172.37,895.00 1173.89,895.00 1175.42,895.00 1176.95,895.00 1178.48,895.00 1180.01,895.00 1181.54,895.00 1183.07,895.00 1184.60,895.00 1186.12,895.00 1187.65,895.00 1189.18,895.00 1190.71,895.00 1192.24,895.00 1193.77,895.00 1195.30,895.00 1196.83,895.00 1198.36,895.00 1199.88,895.00 1201.41,895.00 1202.94,895.00 1204.47,895.00 1206.00,895.00 1207.53,895.00 1209.06,895.00 1210.58,895.00 1212.11,895.00 1213.64,895.00 1215.17,895.00 1216.70,895.00 1218.23,895.00 1219.76,895.00 1221.29,895.00 1222.82,895.00 1224.34,895.00 1225.87,895.00 1227.40,895.00 1228.93,895.00 1230.46,895.00 1231.99,895.00 1233.52,895.00 1235.05,895.00 1236.57,895.00 1238.10,895.00 1239.63,895.00 1241.16,895.00 1242.69,895.00 1244.22,895.00 1245.75,895.00 1247.28,895.00 1248.80,895.00 1250.33,895.00 1251.86,895.00 1253.39,895.00 1254.92,895.00 1256.45,895.00 1257.98,895.00 1259.50,895.00 1261.03,895.00 1262.56,895.00 1264.09,895.00 1265.62,895.00 1267.15,895.00 1268.68,895.00 1270.21,895.00 1271.73,895.00 1273.26,895.00 1274.79,895.00 1276.32,895.00 1277.85,895.00 1279.38,895.00 1280.91,895.00 1282.44,895.00 1283.97,895.00 1285.49,895.00 1287.02,895.00 1288.55,895.00 1290.08,895.00 1291.61,895.00 1293.14,895.00 1294.67,895.00 1296.20,895.00 1297.72,895.00 1299.25,895.00 1300.78,895.00 1302.31,895.00 1303.84,895.00 1305.37,895.00 1306.90,895.00 1308.42,895.00 1309.95,895.00 1311.48,895.00 1313.01,895.00 1314.54,895.00 1316.07,895.00 1317.60,895.00 1319.13,895.00 1320.65,895.00 1322.18,895.00 1323.71,895.00 1325.24,895.00 1326.77,895.00 1328.30,895.00 1329.83,895.00 1331.36,895.00 1332.88,895.00 1334.41,895.00 1335.94,895.00 1337.47,895.00 1339.00,895.00" fill="none" stroke="#ff0000" stroke-width="4" stroke-linejoin="round"/>
<circle cx="605.2" cy="810.3" r="8.75" fill="#0000ff"/>
<circle cx="727.5" cy="702.5" r="8.75" fill="#0000ff"/>
<circle cx="849.8" cy="808.5" r="8.75" fill="#0000ff"/>
<rect x="813.5" y="545.5" width="509" height="45" fill="#ffffff" stroke="#262626" stroke-width="1" shape-rendering="crispEdges"/>
<line x1="822" y1="567.5" x2="884.5" y2="567.5" stroke="#ff0000" stroke-width="4"/>
<text x="899" y="577.7" font-size="28.95" fill="#000000">Solution of Diffusion Equation</text>
<text x="1351" y="969" font-size="21" text-anchor="end" fill="#000000">Holmes, 2023</text>
</svg>
</body></html>
